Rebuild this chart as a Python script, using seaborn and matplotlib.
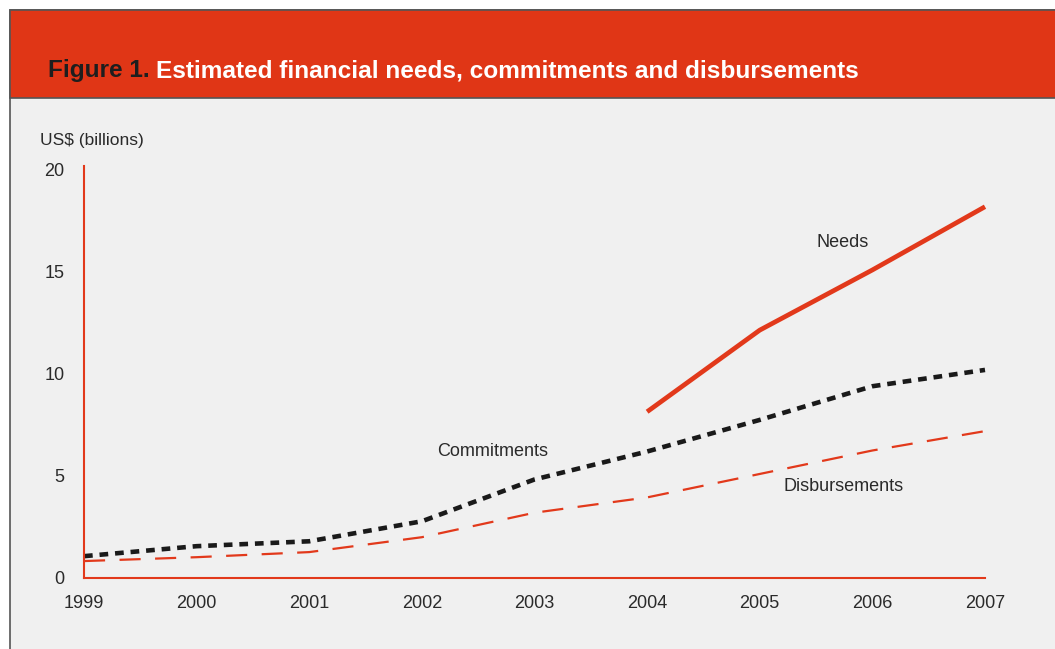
import matplotlib
matplotlib.use("Agg")
import matplotlib.pyplot as plt
import seaborn as sns
import pandas as pd
from matplotlib.patches import Rectangle

years = [1999, 2000, 2001, 2002, 2003, 2004, 2005, 2006, 2007]
needs_years = [2004, 2005, 2006, 2007]
needs = [8.15, 12.15, 15.1, 18.2]
commitments = [1.07, 1.56, 1.8, 2.78, 4.83, 6.2, 7.75, 9.4, 10.2]
disbursements = [0.83, 1.02, 1.27, 2.0, 3.2, 3.95, 5.1, 6.25, 7.2]
ytick_vals = [0, 5, 10, 15, 20]

RED = "#e2391b"
BAND = "#e03616"
BG = "#f0f0f0"
TXT = "#2a2a2a"

plt.rcParams['font.family'] = ['Liberation Sans', 'DejaVu Sans']

W, H = 1055, 649
fig = plt.figure(figsize=(W / 100, H / 100), dpi=100)
fig.patch.set_facecolor("white")

def fx(px):
    return px / W

def fy(py):
    return 1 - py / H

# panel background and frame
fig.patches.append(Rectangle((fx(10), fy(660)), fx(1060) - fx(10), fy(10) - fy(660),
                             transform=fig.transFigure, facecolor=BG, edgecolor="#555555",
                             linewidth=1.2, zorder=-10))
fig.patches.append(Rectangle((fx(10), fy(97.5)), fx(1060) - fx(10), fy(10) - fy(97.5),
                             transform=fig.transFigure, facecolor=BAND, edgecolor="#555555",
                             linewidth=1.2, zorder=-9))

ax = fig.add_axes([fx(84), fy(578), fx(985) - fx(84), fy(170) - fy(578)])
ax.set_facecolor("none")
ax.set_zorder(5)

df_c = pd.DataFrame({"year": years, "value": commitments})
df_d = pd.DataFrame({"year": years, "value": disbursements})
df_n = pd.DataFrame({"year": needs_years, "value": needs})

sns.lineplot(data=df_d, x="year", y="value", ax=ax, color=RED, linewidth=1.6,
             clip_on=False)
ax.lines[-1].set_dashes((9.5, 6.5))
ax.lines[-1].set_dash_capstyle("butt")
sns.lineplot(data=df_c, x="year", y="value", ax=ax, color="#1a1a1a", linewidth=3.3,
             clip_on=False)
ax.lines[-1].set_dashes((1.9, 1.5))
ax.lines[-1].set_dash_capstyle("butt")
sns.lineplot(data=df_n, x="year", y="value", ax=ax, color=RED, linewidth=3.4,
             clip_on=False)
ax.lines[-1].set_solid_capstyle("butt")

ax.set_xlim(1999, 2007)
ax.set_ylim(0, 20)
ax.set_xticks(years)
ax.set_xticklabels([str(y) for y in years])
ax.set_yticks(ytick_vals)
ax.set_yticklabels([str(v) for v in ytick_vals])
ax.tick_params(length=0, labelsize=13, labelcolor=TXT)
ax.tick_params(axis="x", pad=12.5)
ax.tick_params(axis="y", pad=14)
ax.set_xlabel("")
ax.set_ylabel("")
for s in ["top", "right"]:
    ax.spines[s].set_visible(False)
for s in ["left", "bottom"]:
    ax.spines[s].set_color(RED)
    ax.spines[s].set_linewidth(1.5)
ax.spines["left"].set_bounds(0, 20.2)

ax.text(2005.74, 16.45, "Needs", fontsize=13, color=TXT, ha="center", va="center")
ax.text(2002.63, 6.2, "Commitments", fontsize=13, color=TXT, ha="center", va="center")
ax.text(2005.74, 4.5, "Disbursements", fontsize=13, color=TXT, ha="center", va="center")

fig.text(fx(40), fy(140), "US$ (billions)", fontsize=12.5, color=TXT, ha="left", va="center")

t1 = fig.text(fx(48), fy(71), "Figure 1.", fontsize=17.6, fontweight="bold",
              color="#1e1e1e", ha="left", va="center")
fig.canvas.draw()
bb = t1.get_window_extent()
fig.text((bb.x1 + 6) / W, fy(71), "Estimated financial needs, commitments and disbursements",
         fontsize=17.6, fontweight="bold", color="white", ha="left", va="center")

fig.savefig("out.png", dpi=100, facecolor=fig.get_facecolor())
